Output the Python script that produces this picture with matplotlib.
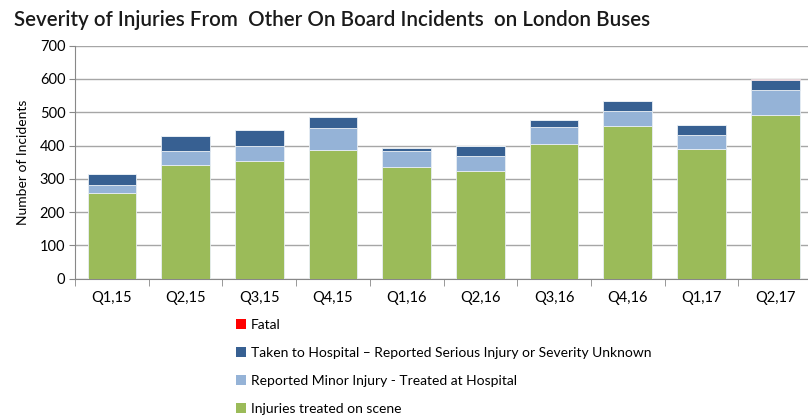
import matplotlib
matplotlib.use("Agg")
import matplotlib.pyplot as plt
from matplotlib.patches import Patch
import numpy as np

categories = ["Q1,15", "Q2,15", "Q3,15", "Q4,15", "Q1,16", "Q2,16", "Q3,16", "Q4,16", "Q1,17", "Q2,17"]
on_scene = [256, 342, 353, 388, 337, 324, 405, 458, 390, 491]
minor_hosp = [24, 42, 45, 64, 46, 44, 50, 45, 41, 77]
serious = [35, 45, 48, 33, 11, 30, 22, 32, 30, 30]
fatal = [0, 0, 0, 0, 0, 0, 0, 0, 0, 2]

series_names = ["Injuries treated on scene",
                "Reported Minor Injury - Treated at Hospital",
                "Taken to Hospital \u2013 Reported Serious Injury or Severity Unknown",
                "Fatal"]
colors = ["#9BBB59", "#95B3D7", "#376092", "#FF0000"]

plt.rcParams['font.family'] = ['Lato', 'DejaVu Sans']

fig = plt.figure(figsize=(8.08, 4.17), dpi=100)
ax = fig.add_axes([0.0928, 0.3317, 0.9122, 0.5587])

x = np.arange(len(categories))
bottom = np.zeros(len(categories))
for vals, col in zip([on_scene, minor_hosp, serious, fatal], colors):
    ax.bar(x, vals, bottom=bottom, width=0.66, color=col, edgecolor="#E8EEF4", linewidth=0.6, zorder=3)
    bottom += np.array(vals)

ax.set_xlim(-0.5, len(categories) - 0.5)
ax.set_ylim(0, 700)
ax.set_yticks(range(0, 701, 100))
ax.yaxis.grid(True, color="#A6A6A6", linewidth=1.0, zorder=0)
ax.set_axisbelow(True)
ax.set_xticks(x)
ax.set_xticklabels(categories, fontsize=10.5)
ax.set_xticks(np.arange(-0.5, len(categories), 1), minor=True)
ax.tick_params(axis='x', which='major', length=0, pad=9)
ax.tick_params(axis='x', which='minor', length=5, color="#888888")
ax.tick_params(axis='y', length=4, color="#888888", labelsize=10.5, pad=3)
for s in ['top', 'right']:
    ax.spines[s].set_visible(False)
for s in ['left', 'bottom']:
    ax.spines[s].set_color("#888888")
ax.set_ylabel("Number of Incidents", fontsize=10, labelpad=8)

fig.text(0.017, 0.952, "Severity of Injuries From  Other On Board Incidents  on London Buses",
         fontsize=14.8, fontweight='semibold', color="#1a1a1a", va='center', ha='left')

handles = [Patch(facecolor=colors[i], edgecolor='none') for i in [3, 2, 1, 0]]
labels = [series_names[i] for i in [3, 2, 1, 0]]
fig.legend(handles, labels, loc='upper left', bbox_to_anchor=(0.292, 0.236),
           frameon=False, fontsize=10, handlelength=0.75, handleheight=0.75,
           handletextpad=0.3, labelspacing=1.15, borderaxespad=0, borderpad=0)

fig.savefig("out.png", dpi=100)
